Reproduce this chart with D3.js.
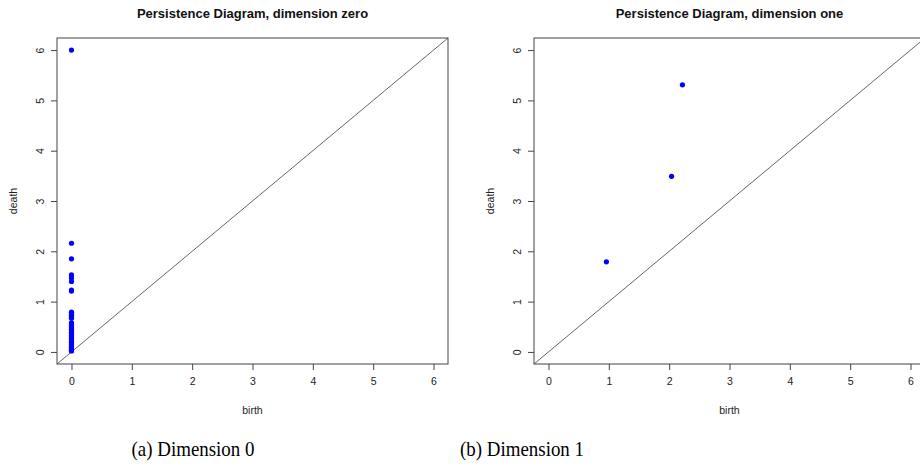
<!DOCTYPE html>
<html>
<head>
<meta charset="utf-8">
<script src="https://cdn.jsdelivr.net/npm/d3@7"></script>
<style>
  body { margin: 0; background: #fff; }
  text { font-family: "Liberation Sans", Arial, sans-serif; }
</style>
</head>
<body>
<div id="chart"></div>
<script>
// 数据: 从图上读出
const ticks = [0, 1, 2, 3, 4, 5, 6]
const axisDomain = [-0.24, 6.24]

// 维度0: birth 全是 0
const dim0Birth = [0, 0, 0, 0, 0, 0, 0, 0, 0, 0, 0, 0, 0, 0, 0, 0, 0, 0, 0, 0,
  0, 0, 0, 0, 0, 0, 0, 0, 0, 0, 0, 0, 0, 0, 0]
const dim0Death = [6.0, 2.16, 1.85, 1.53, 1.47, 1.40, 1.23, 1.21, 0.79, 0.76,
  0.73, 0.70, 0.67, 0.58, 0.55, 0.52, 0.48, 0.45, 0.42, 0.39,
  0.36, 0.33, 0.30, 0.27, 0.24, 0.21, 0.18, 0.15, 0.12, 0.10,
  0.08, 0.06, 0.04, 0.03, 0.02]

// 维度1
const dim1Birth = [0.96, 2.04, 2.22]
const dim1Death = [1.79, 3.49, 5.31]

const panels = [
  { title: 'Persistence Diagram, dimension zero', caption: '(a) Dimension 0',
    birth: dim0Birth, death: dim0Death, left: 57, captionX: 193 },
  { title: 'Persistence Diagram, dimension one', caption: '(b) Dimension 1',
    birth: dim1Birth, death: dim1Death, left: 534, captionX: 522 }
]

const width = 920, height = 476
const boxW = 391, plotTop = 38, plotBottom = 364

const svg = d3.select('#chart').append('svg')
  .attr('width', width)
  .attr('height', height)

panels.forEach(p => {
  const x = d3.scaleLinear().domain(axisDomain).range([p.left, p.left + boxW])
  const y = d3.scaleLinear().domain(axisDomain).range([plotBottom, plotTop])

  const g = svg.append('g')

  // 标题
  g.append('text')
    .attr('x', p.left + boxW / 2)
    .attr('y', 18)
    .attr('text-anchor', 'middle')
    .style('font-weight', 'bold')
    .style('font-size', '13px')
    .attr('fill', '#111')
    .text(p.title)

  // 对角线
  g.append('line')
    .attr('x1', x(axisDomain[0])).attr('y1', y(axisDomain[0]))
    .attr('x2', x(axisDomain[1])).attr('y2', y(axisDomain[1]))
    .attr('stroke', '#555')
    .attr('stroke-width', 0.9)

  // 点
  g.selectAll('circle').data(p.birth).join('circle')
    .attr('cx', d => x(d))
    .attr('cy', (_, i) => y(p.death[i]))
    .attr('r', 2.6)
    .attr('fill', '#0000ff')

  // x 轴
  const gx = g.append('g')
    .attr('transform', `translate(0,${plotBottom})`)
    .call(d3.axisBottom(x).tickValues(ticks).tickSize(6).tickPadding(8).tickFormat(d3.format('d')))
  gx.select('.domain').remove()

  // y 轴, 刻度文字旋转
  const gy = g.append('g')
    .attr('transform', `translate(${p.left},0)`)
    .call(d3.axisLeft(y).tickValues(ticks).tickSize(6).tickFormat(d3.format('d')))
  gy.select('.domain').remove()
  gy.selectAll('.tick text')
    .attr('x', 0).attr('dy', 0)
    .attr('transform', 'translate(-16,0) rotate(-90)')
    .attr('text-anchor', 'middle')
    .attr('dominant-baseline', 'middle')

  ;[gx, gy].forEach(a => {
    a.selectAll('.tick line').attr('stroke', '#444')
    a.selectAll('.tick text')
      .style('font-size', '10.5px')
      .style('font-family', '"Liberation Sans", Arial, sans-serif')
      .attr('fill', '#222')
  })

  // 边框
  g.append('rect')
    .attr('x', p.left).attr('y', plotTop)
    .attr('width', boxW).attr('height', plotBottom - plotTop)
    .attr('fill', 'none')
    .attr('stroke', '#444')
    .attr('stroke-width', 1)

  // 轴标签
  g.append('text')
    .attr('x', p.left + boxW / 2)
    .attr('y', 414)
    .attr('text-anchor', 'middle')
    .style('font-size', '10.5px')
    .attr('fill', '#222')
    .text('birth')

  g.append('text')
    .attr('transform', `translate(${p.left - 40},${(plotTop + plotBottom) / 2}) rotate(-90)`)
    .attr('text-anchor', 'middle')
    .style('font-size', '10.5px')
    .attr('fill', '#222')
    .text('death')

  // 子图说明 (字形偏窄)
  g.append('text')
    .attr('transform', `translate(${p.captionX},456) scale(0.88,1)`)
    .attr('text-anchor', 'middle')
    .style('font-family', '"Liberation Serif", "Times New Roman", serif')
    .style('font-size', '21.5px')
    .attr('fill', '#000')
    .text(p.caption)
})
</script>
</body>
</html>
